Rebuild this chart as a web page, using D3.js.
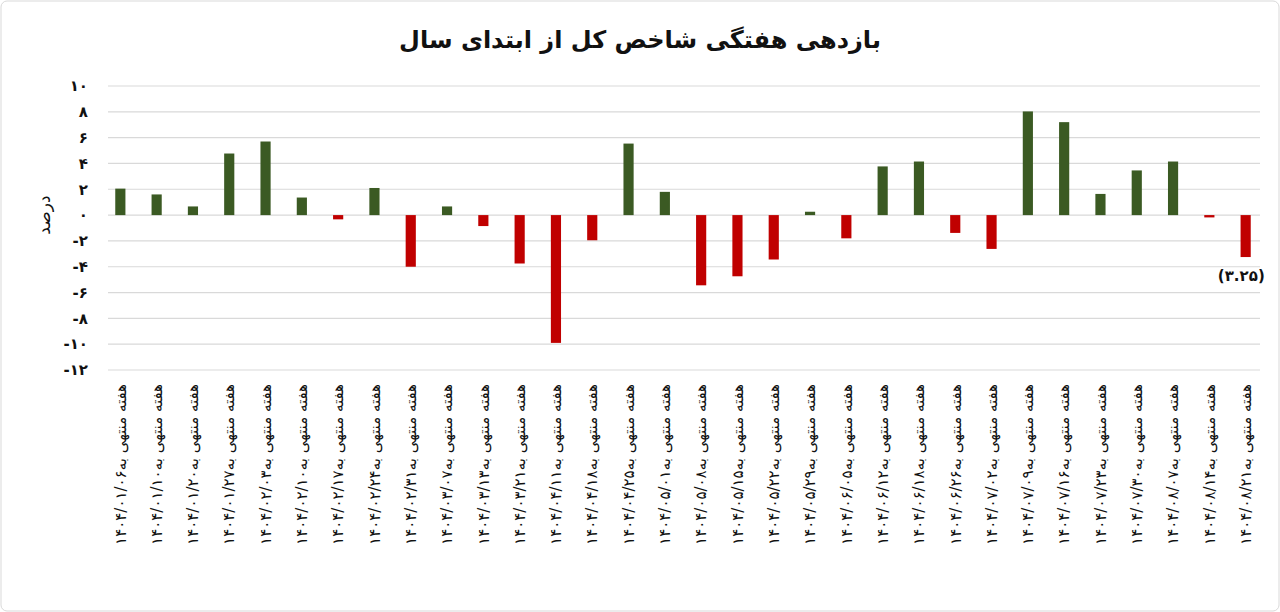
<!DOCTYPE html>
<html>
<head>
<meta charset="utf-8">
<script src="https://cdn.jsdelivr.net/npm/d3@7.9.0/dist/d3.min.js"></script>
<style>
  body { margin: 0; background: #fff; }
  svg text { font-family: "DejaVu Sans", sans-serif; fill: #111; }
</style>
</head>
<body>
<svg id="chart" width="1280" height="612"></svg>
<script>
const toFa = (s) => String(s).replace(/\d/g, (d) => '۰۱۲۳۴۵۶۷۸۹'[d]);

// week-end dates (1404)
const dates = [
  '01/06', '01/10', '01/20', '01/27', '02/03', '02/10', '02/17', '02/24',
  '02/31', '03/07', '03/13', '03/21', '04/11', '04/18', '04/25', '05/01',
  '05/08', '05/15', '05/22', '05/29', '06/05', '06/12', '06/18', '06/26',
  '07/02', '07/09', '07/16', '07/23', '07/30', '08/07', '08/14', '08/21'
];
// weekly return (%)
const returns = [
  2.05, 1.6, 0.67, 4.77, 5.7, 1.36, -0.33, 2.1,
  -4.0, 0.67, -0.85, -3.75, -9.9, -1.95, 5.54, 1.8,
  -5.44, -4.74, -3.44, 0.26, -1.8, 3.77, 4.15, -1.38,
  -2.62, 8.03, 7.2, 1.64, 3.46, 4.15, -0.18, -3.25
];
const yTicks = [10, 8, 6, 4, 2, 0, -2, -4, -6, -8, -10, -12];

const data = dates.map((d, i) => ({ label: 'هفته منتهی به' + toFa('1404/' + d), value: returns[i] }));

const svg = d3.select('#chart');
svg.append('rect').attr('x', 1).attr('y', 1).attr('width', 1278).attr('height', 610)
  .attr('rx', 6).attr('fill', 'none').attr('stroke', '#d9d9d9');

const x = d3.scaleBand().domain(d3.range(data.length)).range([108, 1258]).paddingInner(0.72).paddingOuter(0.2);
const y = d3.scaleLinear().domain([-12, 10]).range([370, 86]);

// gridlines
svg.append('g').selectAll('line').data(yTicks).join('line')
  .attr('x1', 108).attr('x2', 1260)
  .attr('y1', (d) => y(d)).attr('y2', (d) => y(d))
  .attr('stroke', '#d9d9d9').attr('stroke-width', 1.2);

// y tick labels
svg.append('g').selectAll('text').data(yTicks).join('text')
  .attr('x', 88).attr('y', (d) => y(d)).attr('dy', '0.35em')
  .attr('text-anchor', 'end').attr('font-size', 15).attr('font-weight', 'bold')
  .text((d) => (d < 0 ? '-' : '') + toFa(Math.abs(d)));

svg.append('text').attr('transform', `translate(50,${y(0)}) rotate(-90)`)
  .attr('text-anchor', 'middle').attr('font-size', 17).text('درصد');

// bars
svg.append('g').selectAll('rect').data(data).join('rect')
  .attr('x', (d, i) => x(i)).attr('width', x.bandwidth())
  .attr('y', (d) => y(Math.max(0, d.value)))
  .attr('height', (d) => Math.abs(y(d.value) - y(0)))
  .attr('fill', (d) => (d.value >= 0 ? '#3b5a23' : '#c00000'));

// last value annotation
const last = data.length - 1;
svg.append('text').attr('x', x(last) + x.bandwidth() + 14).attr('y', y(returns[last]) + 24)
  .attr('text-anchor', 'end').attr('font-size', 15).attr('font-weight', 'bold')
  .text('(' + toFa(Math.abs(returns[last]).toFixed(2)) + ')');

// x labels
svg.append('g').selectAll('text').data(data).join('text')
  .attr('transform', (d, i) => `translate(${x(i) + x.bandwidth() / 2},384) rotate(-90)`)
  .attr('direction', 'rtl').attr('text-anchor', 'start').attr('dy', '0.35em')
  .attr('font-size', 15).text((d) => d.label);

svg.append('text').attr('x', 640).attr('y', 48).attr('text-anchor', 'middle')
  .attr('font-size', 24).attr('font-weight', 'bold').text('بازدهی هفتگی شاخص کل از ابتدای سال');
</script>
</body>
</html>
